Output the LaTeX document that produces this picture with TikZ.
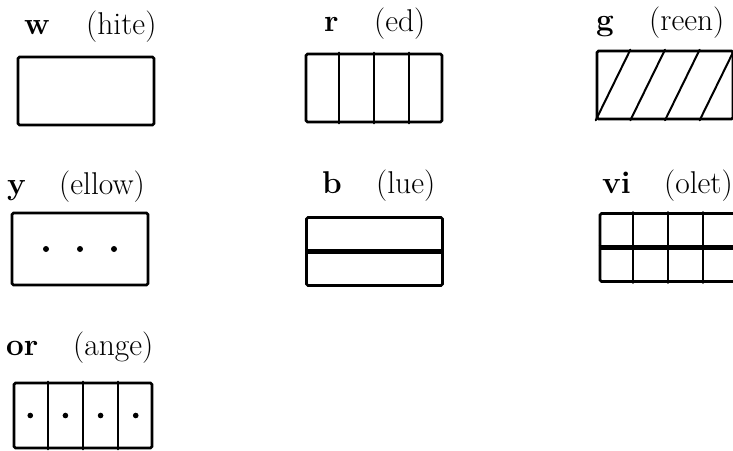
\documentclass[tikz,border=0pt]{standalone}
\usetikzlibrary{calc}

\begin{document}
\begin{tikzpicture}[x=1pt,y=-1pt,line cap=round,
  swatch/.style={draw,line width=2.6pt,rounded corners=1.5pt,inner sep=0pt,
    minimum width=136pt,minimum height=68pt},
  tag/.style={anchor=base west,inner sep=0pt,font=\fontsize{31.5}{36}\selectfont},
  rule/.style={line width=2pt},
  bar/.style={line width=4.5pt,line cap=butt}]
  \useasboundingbox (0,0) rectangle (733,450);
  \clip (0,0) rectangle (733,450);

  % names of the colours
  \node[tag] (wkey) at (24,34) {\textbf{w}};
  \node[tag] (wname) at (86,34) {(hite)};
  \node[tag] (rkey) at (324,31) {\textbf{r}};
  \node[tag] (rname) at (374,31) {(ed)};
  \node[tag] (gkey) at (596,30) {\textbf{g}};
  \node[tag] (gname) at (649,30) {(reen)};
  \node[tag] (ykey) at (7,194) {\textbf{y}};
  \node[tag] (yname) at (59,194) {(ellow)};
  \node[tag] (bkey) at (322,193) {\textbf{b}};
  \node[tag] (bname) at (376,193) {(lue)};
  \node[tag] (vkey) at (602,193) {\textbf{vi}};
  \node[tag] (vname) at (664,193) {(olet)};
  \node[tag] (okey) at (6,355) {\textbf{or}};
  \node[tag] (oname) at (73,355) {(ange)};

  % the swatches
  \node[swatch] (white) at (86,91) {};
  \node[swatch] (red) at (374,88) {};
  \node[swatch] (green) at (665,85) {};
  \node[swatch,minimum height=72pt] (yellow) at (80,249) {};
  \node[swatch] (blue) at (374.5,251.5) {};
  \node[swatch] (violet) at (668,247.5) {};
  \node[swatch,minimum width=138pt,minimum height=65pt] (orange) at (83,415.5) {};

  % red: four columns
  \foreach \f in {0.25,0.5,0.75}
    \draw[rule] ($(red.north west)!\f!(red.north east)$) -- ($(red.south west)!\f!(red.south east)$);

  % green: slanted hatching
  \foreach \f [evaluate=\f as \g using \f+0.25] in {0,0.25,0.5,0.75}
    \draw[rule] ($(green.south west)!\f!(green.south east)$) -- ($(green.north west)!\g!(green.north east)$);

  % yellow: three dots
  \foreach \dx in {-34,0,34}
    \fill ($(yellow.center)+(\dx,0)$) circle (3pt);

  % blue: heavy middle bar
  \draw[bar] (blue.west) -- (blue.east);

  % violet: columns and bar
  \foreach \f in {0.25,0.5,0.75}
    \draw[rule] ($(violet.north west)!\f!(violet.north east)$) -- ($(violet.south west)!\f!(violet.south east)$);
  \draw[bar] (violet.west) -- (violet.east);

  % orange: columns with a dot in each
  \foreach \f in {0.25,0.5,0.75}
    \draw[rule] ($(orange.north west)!\f!(orange.north east)$) -- ($(orange.south west)!\f!(orange.south east)$);
  \foreach \f in {0.125,0.375,0.625,0.875}
    \fill ($(orange.west)!\f!(orange.east)$) circle (2.8pt);
\end{tikzpicture}
\end{document}
